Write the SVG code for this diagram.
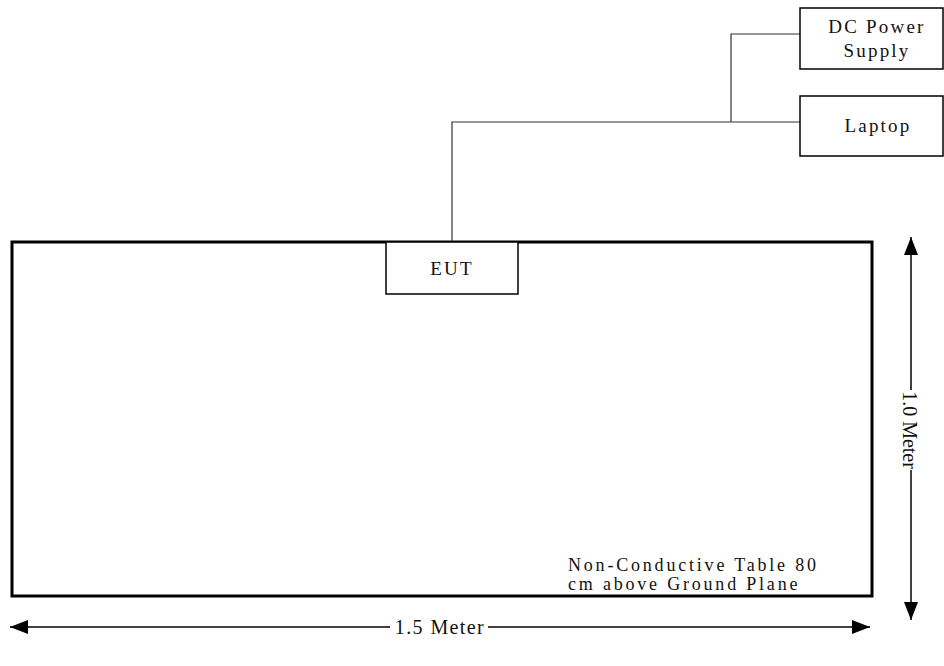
<svg xmlns="http://www.w3.org/2000/svg" width="944" height="666" viewBox="0 0 944 666">
<style>
.box{fill:#fff;stroke:#000;stroke-width:1.5}
.table{fill:#fff;stroke:#000;stroke-width:3}
.wire{fill:none;stroke:#333;stroke-width:1.2}
.dim{fill:none;stroke:#000;stroke-width:1.5}
.t{font-family:"Liberation Serif","Times New Roman",serif;font-size:19px;fill:#111}
.sp{letter-spacing:2.2px}
.note{font-size:18px;letter-spacing:2.8px}
</style>
<defs>
<marker id="ah" viewBox="0 0 18 14" refX="18" refY="7" markerWidth="18" markerHeight="14" markerUnits="userSpaceOnUse" orient="auto-start-reverse">
<path d="M0,0 L18,7 L0,14 Z" fill="#000"/>
</marker>
</defs>
<g id="table">
<rect class="table" x="12" y="242" width="860" height="354"/>
<text class="t note" x="568" y="571">Non-Conductive Table 80</text>
<text class="t note" x="568" y="590">cm above Ground Plane</text>
</g>
<g id="connectors">
<polyline class="wire" points="452,242 452,122 800,122"/>
<polyline class="wire" points="731,122 731,34 800,34"/>
<line class="dim" x1="911" y1="390" x2="911" y2="237" marker-end="url(#ah)"/>
<line class="dim" x1="911" y1="470" x2="911" y2="620" marker-end="url(#ah)"/>
<line class="dim" x1="390" y1="627" x2="10" y2="627" marker-end="url(#ah)"/>
<line class="dim" x1="488" y1="627" x2="870" y2="627" marker-end="url(#ah)"/>
</g>
<g id="eut">
<rect class="box" x="386" y="242" width="132" height="52"/>
<text class="t sp" x="452" y="275" text-anchor="middle">EUT</text>
</g>
<g id="dc-power-supply">
<rect class="box" x="800" y="8" width="143" height="61"/>
<text class="t sp" x="877" y="33" text-anchor="middle">DC Power</text>
<text class="t sp" x="877" y="57" text-anchor="middle">Supply</text>
</g>
<g id="laptop">
<rect class="box" x="800" y="96" width="143" height="60"/>
<text class="t sp" x="878" y="132" text-anchor="middle">Laptop</text>
</g>
<g id="dim-labels">
<text class="t" x="440" y="634" text-anchor="middle" style="font-size:20px;letter-spacing:1.4px">1.5 Meter</text>
<text class="t" transform="translate(903,430) rotate(90)" text-anchor="middle" style="font-size:20px">1.0 Meter</text>
</g>
</svg>
